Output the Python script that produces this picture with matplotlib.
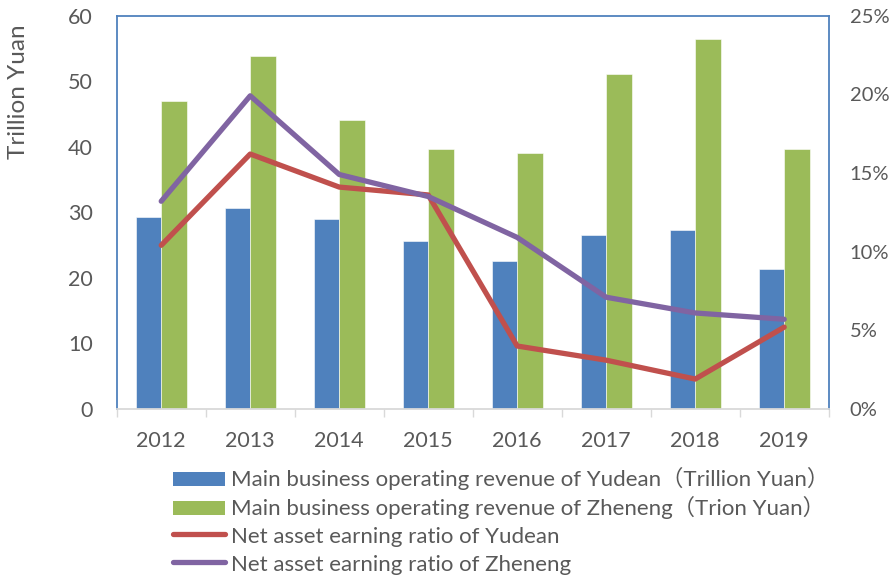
import matplotlib
matplotlib.use("Agg")
import matplotlib.pyplot as plt
import numpy as np
from matplotlib.lines import Line2D
from matplotlib.patches import Patch, Rectangle
from matplotlib.legend_handler import HandlerPatch

years = ["2012", "2013", "2014", "2015", "2016", "2017", "2018", "2019"]
yudean_rev = [29.3, 30.7, 28.9, 25.6, 22.5, 26.5, 27.3, 21.4]
zheneng_rev = [47.0, 53.8, 44.1, 39.6, 39.1, 51.1, 56.5, 39.6]
yudean_roe = [10.4, 16.2, 14.1, 13.6, 4.0, 3.1, 1.9, 5.2]
zheneng_roe = [13.2, 19.9, 14.9, 13.5, 10.9, 7.1, 6.1, 5.7]

legend_labels = [
    "Main business operating revenue of Yudean（Trillion Yuan）",
    "Main business operating revenue of Zheneng（Trion Yuan）",
    "Net asset earning ratio of Yudean",
    "Net asset earning ratio of Zheneng",
]

BLUE = "#4F81BD"
GREEN = "#9BBB59"
RED = "#C0504D"
PURPLE = "#8064A2"
TXT = "#595959"
FONT = ["Lato", "Noto Sans CJK SC", "DejaVu Sans"]
plt.rcParams["font.family"] = FONT

fig = plt.figure(figsize=(8.93, 5.76), dpi=100)
ax = fig.add_axes([0.1307, 0.29, 0.928 - 0.1307, 0.973 - 0.29])
x = np.arange(len(years))
w = 0.285
ax.bar(x - w / 2, yudean_rev, w, color=BLUE, edgecolor="white", linewidth=0.4, zorder=2)
ax.bar(x + w / 2, zheneng_rev, w, color=GREEN, edgecolor="white", linewidth=0.4, zorder=2)
ax.set_xlim(-0.5, len(years) - 0.5)
ax.set_ylim(0, 60)
ax.set_yticks(range(0, 61, 10))
ax.set_xticks(x)
ax.set_xticklabels(years)
ax.set_xticks(np.arange(-0.5, len(years), 1), minor=True)
ax.tick_params(axis="x", which="major", length=0, pad=16, labelsize=15.5, labelcolor=TXT)
ax.tick_params(axis="x", which="minor", length=6, color="#D9D9D9", width=1)
ax.tick_params(axis="y", length=0, pad=17, labelsize=15.5, labelcolor=TXT)
for s in ["left", "top", "right"]:
    ax.spines[s].set_color(BLUE)
    ax.spines[s].set_linewidth(1.3)
ax.spines["bottom"].set_color("#D9D9D9")
ax.spines["bottom"].set_linewidth(1.3)

ax2 = ax.twinx()
ax2.plot(x, yudean_roe, color=RED, lw=3.8, solid_capstyle="round", zorder=3)
ax2.plot(x, zheneng_roe, color=PURPLE, lw=3.8, solid_capstyle="round", zorder=3)
ax2.set_ylim(0, 25)
ax2.set_yticks(range(0, 26, 5))
ax2.set_yticklabels([f"{v}%" for v in range(0, 26, 5)])
ax2.tick_params(axis="y", length=0, pad=15, labelsize=14.5, labelcolor=TXT)
for s in ax2.spines.values():
    s.set_visible(False)

fig.text(0.021, 0.84, "Trillion Yuan", rotation=90, ha="center", va="center",
         fontsize=17.5, color=TXT)


def short_patch(legend, orig_handle, xdescent, ydescent, width, height, fontsize):
    h = 0.63 * fontsize
    return Rectangle((-xdescent, -ydescent + (height - h) / 2), width, h)


handles = [
    Patch(facecolor=BLUE, edgecolor="none"),
    Patch(facecolor=GREEN, edgecolor="none"),
    Line2D([0], [0], color=RED, lw=3.8, solid_capstyle="round"),
    Line2D([0], [0], color=PURPLE, lw=3.8, solid_capstyle="round"),
]
leg = fig.legend(handles, legend_labels, loc="upper left", bbox_to_anchor=(0.1934, 0.1884),
                 frameon=False, fontsize=16, labelcolor=TXT, handlelength=2.35,
                 handleheight=1.05, handletextpad=0.27, labelspacing=0.26,
                 borderaxespad=0, borderpad=0,
                 handler_map={Patch: HandlerPatch(patch_func=short_patch)})

fig.savefig("out.png", dpi=100)
